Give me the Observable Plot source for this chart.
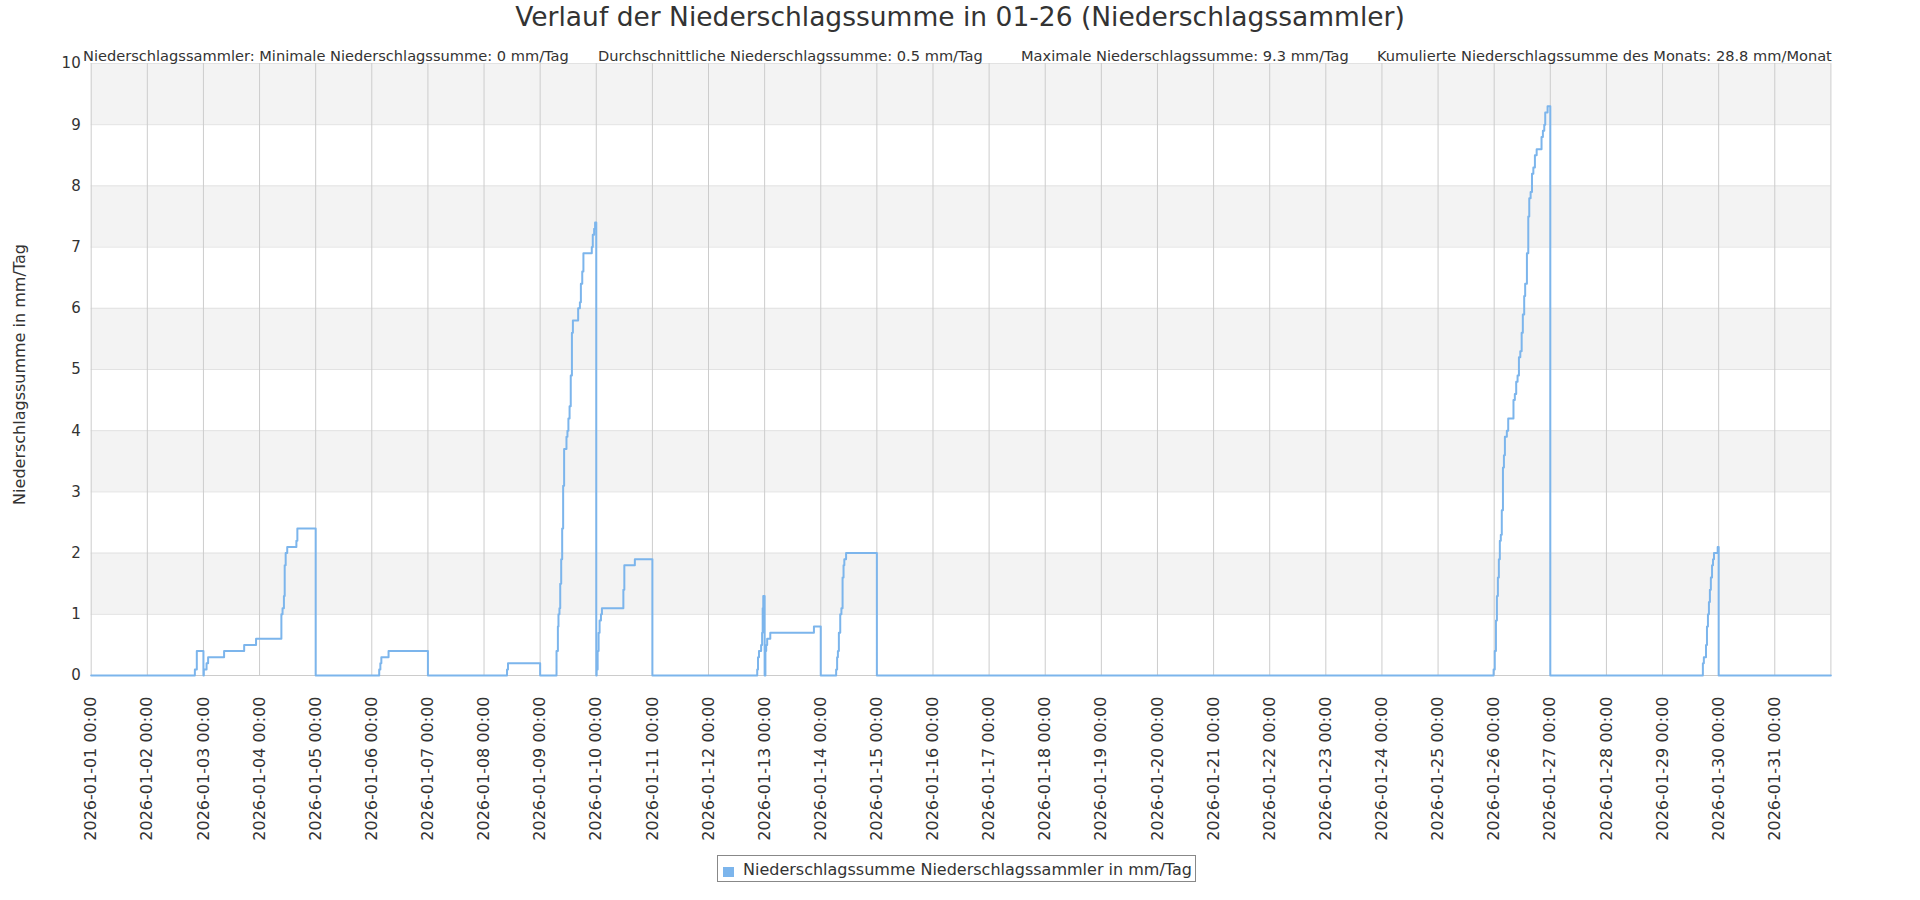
<!DOCTYPE html>
<html>
<head>
<meta charset="utf-8">
<script src="https://cdn.jsdelivr.net/npm/d3@7"></script>
<script src="https://cdn.jsdelivr.net/npm/@observablehq/plot@0.6"></script>
<style>
  body { margin: 0; background: #fff; font-family: "DejaVu Sans", sans-serif; color: #333; }
  #wrap { position: relative; width: 1920px; }
  #head { position: relative; height: 42px; }
  #title { position: absolute; left: 0; top: 0; width: 1920px; text-align: center; font-size: 26.5px; line-height: 34px; color: #333; white-space: pre; }
  .sub { position: absolute; top: 46px; font-size: 14.6px; line-height: 20px; white-space: pre; color: #333; z-index: 2; }
  #legend { position: relative; margin-top: 3px; margin-left: 717px; width: 477px; height: 25px; border: 1px solid #888; box-sizing: content-box; }
  #legend .sw { position: absolute; left: 5px; top: 11px; width: 11px; height: 10px; background: #7cb5ec; }
  #legend .lt { position: absolute; left: 25px; top: 1px; font-size: 16px; line-height: 25px; white-space: pre; color: #333; }
</style>
</head>
<body>
<div id="wrap">
  <div id="head">
    <div id="title">Verlauf der Niederschlagssumme in 01-26 (Niederschlagssammler)</div>
    <div class="sub" style="left:83px">Niederschlagssammler: Minimale Niederschlagssumme: 0 mm/Tag</div>
    <div class="sub" style="left:598px">Durchschnittliche Niederschlagssumme: 0.5 mm/Tag</div>
    <div class="sub" style="left:1021px">Maximale Niederschlagssumme: 9.3 mm/Tag</div>
    <div class="sub" style="left:1377px">Kumulierte Niederschlagssumme des Monats: 28.8 mm/Monat</div>
  </div>
  <div id="chart"></div>
  <div id="legend"><div class="sw"></div><div class="lt">Niederschlagssumme Niederschlagssammler in mm/Tag</div></div>
</div>
<script>
// ---- data ----
const times = [
  "2026-01-01T00:00",
  "2026-01-02T20:20", "2026-01-02T21:10",
  "2026-01-03T00:00", "2026-01-03T00:10", "2026-01-03T01:20", "2026-01-03T02:00", "2026-01-03T08:50", "2026-01-03T17:25", "2026-01-03T22:30",
  "2026-01-04T09:20", "2026-01-04T09:50", "2026-01-04T10:25", "2026-01-04T10:45", "2026-01-04T11:10", "2026-01-04T11:50", "2026-01-04T15:45", "2026-01-04T16:10",
  "2026-01-05T00:00",
  "2026-01-06T03:10", "2026-01-06T03:40", "2026-01-06T04:05", "2026-01-06T07:10",
  "2026-01-07T00:00",
  "2026-01-08T09:50", "2026-01-08T10:15",
  "2026-01-09T00:00",
  "2026-01-09T07:00", "2026-01-09T07:35", "2026-01-09T07:50", "2026-01-09T08:15", "2026-01-09T08:35", "2026-01-09T09:00", "2026-01-09T09:25", "2026-01-09T09:50",
  "2026-01-09T10:15", "2026-01-09T11:15", "2026-01-09T11:40", "2026-01-09T12:05", "2026-01-09T12:35", "2026-01-09T13:05", "2026-01-09T13:35", "2026-01-09T14:00",
  "2026-01-09T16:15", "2026-01-09T17:00", "2026-01-09T17:25", "2026-01-09T18:00", "2026-01-09T18:30", "2026-01-09T22:05", "2026-01-09T22:30", "2026-01-09T23:05", "2026-01-09T23:30",
  "2026-01-10T00:00",
  "2026-01-10T00:10", "2026-01-10T00:35", "2026-01-10T01:00", "2026-01-10T01:25", "2026-01-10T02:00", "2026-01-10T02:25", "2026-01-10T11:35", "2026-01-10T12:00", "2026-01-10T16:30",
  "2026-01-11T00:00",
  "2026-01-12T20:50", "2026-01-12T21:10", "2026-01-12T21:35", "2026-01-12T22:30", "2026-01-12T22:55", "2026-01-12T23:10", "2026-01-12T23:25",
  "2026-01-13T00:00",
  "2026-01-13T00:20", "2026-01-13T00:40", "2026-01-13T01:05", "2026-01-13T02:25", "2026-01-13T21:05",
  "2026-01-14T00:00",
  "2026-01-14T06:35", "2026-01-14T07:00", "2026-01-14T07:20", "2026-01-14T07:45", "2026-01-14T08:20", "2026-01-14T08:50", "2026-01-14T09:20", "2026-01-14T09:45", "2026-01-14T10:05", "2026-01-14T10:50",
  "2026-01-15T00:00",
  "2026-01-25T23:45",
  "2026-01-26T00:15", "2026-01-26T00:45", "2026-01-26T01:10", "2026-01-26T01:35", "2026-01-26T02:00", "2026-01-26T02:25", "2026-01-26T02:50", "2026-01-26T03:15",
  "2026-01-26T03:45", "2026-01-26T04:10", "2026-01-26T04:35", "2026-01-26T05:25", "2026-01-26T06:00", "2026-01-26T08:15", "2026-01-26T08:50", "2026-01-26T09:25",
  "2026-01-26T10:00", "2026-01-26T10:35", "2026-01-26T11:10", "2026-01-26T11:45", "2026-01-26T12:15", "2026-01-26T12:50", "2026-01-26T13:15", "2026-01-26T14:00",
  "2026-01-26T14:35", "2026-01-26T15:00", "2026-01-26T15:35", "2026-01-26T16:10", "2026-01-26T16:45", "2026-01-26T17:25", "2026-01-26T18:10", "2026-01-26T20:15",
  "2026-01-26T20:50", "2026-01-26T21:25", "2026-01-26T21:50", "2026-01-26T22:50",
  "2026-01-27T00:00",
  "2026-01-29T17:15", "2026-01-29T17:40", "2026-01-29T18:35", "2026-01-29T19:00", "2026-01-29T19:25", "2026-01-29T19:50", "2026-01-29T20:15", "2026-01-29T20:40",
  "2026-01-29T21:10", "2026-01-29T21:35", "2026-01-29T22:00", "2026-01-29T23:35",
  "2026-01-30T00:00",
  "2026-01-31T23:59"
];
const values = [
  0,
  0.1, 0.4,
  0, 0.1, 0.2, 0.3, 0.4, 0.5, 0.6,
  1.0, 1.1, 1.3, 1.8, 2.0, 2.1, 2.2, 2.4,
  0,
  0.1, 0.2, 0.3, 0.4,
  0,
  0.1, 0.2,
  0,
  0.4, 0.8, 1.0, 1.1, 1.5, 1.9, 2.4, 3.1,
  3.7, 3.9, 4.0, 4.2, 4.4, 4.9, 5.6, 5.8,
  6.0, 6.1, 6.4, 6.6, 6.9, 7.0, 7.2, 7.3, 7.4,
  0,
  0.1, 0.4, 0.7, 0.9, 1.0, 1.1, 1.4, 1.8, 1.9,
  0,
  0.1, 0.3, 0.4, 0.5, 0.7, 1.1, 1.3,
  0,
  0.4, 0.5, 0.6, 0.7, 0.8,
  0,
  0.1, 0.3, 0.4, 0.7, 1.0, 1.1, 1.6, 1.8, 1.9, 2.0,
  0,
  0.1,
  0.4, 0.9, 1.3, 1.6, 1.9, 2.2, 2.3, 2.7,
  3.4, 3.6, 3.9, 4.0, 4.2, 4.5, 4.6, 4.8,
  4.9, 5.2, 5.3, 5.6, 5.9, 6.2, 6.4, 6.9,
  7.5, 7.8, 7.9, 8.2, 8.3, 8.5, 8.6, 8.8,
  8.9, 9.0, 9.2, 9.3,
  0,
  0.2, 0.3, 0.5, 0.8, 1.0, 1.2, 1.4, 1.6,
  1.8, 1.9, 2.0, 2.1,
  0,
  0
];
const yTicks = [0, 1, 2, 3, 4, 5, 6, 7, 8, 9, 10];
const xStart = "2026-01-01T00:00";
const xEnd = "2026-02-01T00:00";
const yTitle = "Niederschlagssumme in mm/Tag";
const tickLabelFormat = "%Y-%m-%d %H:%M";

// ---- build ----
const parse = s => new Date(s + "Z");
const series = times.map((t, i) => ({t: parse(t), v: values[i]}));
const dayTicks = d3.utcDay.range(parse(xStart), parse(xEnd));
const dayLines = d3.utcDay.range(parse(xStart), d3.utcDay.offset(parse(xEnd), 1));
const bands = yTicks.filter(v => v % 2 === 1);
const fmt = d3.utcFormat(tickLabelFormat);

const chart = Plot.plot({
  width: 1920,
  height: 810,
  marginLeft: 90.7,
  marginRight: 89.6,
  marginTop: 21,
  marginBottom: 177,
  style: {fontFamily: "DejaVu Sans", fontSize: "14px", background: "white", overflow: "visible", color: "#333"},
  x: {type: "utc", domain: [parse(xStart), parse(xEnd)]},
  y: {domain: [0, 10]},
  marks: [
    Plot.rect(bands, {y1: d => d, y2: d => d + 1, fill: "#f3f3f3"}),
    Plot.ruleY(yTicks, {stroke: "#e2e2e2", strokeWidth: 1}),
    Plot.ruleX(dayLines, {stroke: "#cccccc", strokeWidth: 1}),
    Plot.ruleY([0], {stroke: "#cccccc", strokeWidth: 1}),
    Plot.line(series, {x: "t", y: "v", curve: "step-after", stroke: "#7cb5ec", strokeWidth: 2}),
    Plot.axisY({ticks: yTicks, tickSize: 0, tickPadding: 10.5, fontSize: 15, fill: "#333", label: null}),
    Plot.axisX({ticks: dayTicks, tickFormat: fmt, tickRotate: -90, tickSize: 0, tickPadding: 21, fontSize: 16, fill: "#333", label: null}),
    Plot.text([yTitle], {frameAnchor: "left", textAnchor: "middle", rotate: -90, dx: -71, dy: 5, fontSize: 16, fill: "#333"})
  ]
});
document.getElementById("chart").appendChild(chart);
</script>
</body>
</html>
